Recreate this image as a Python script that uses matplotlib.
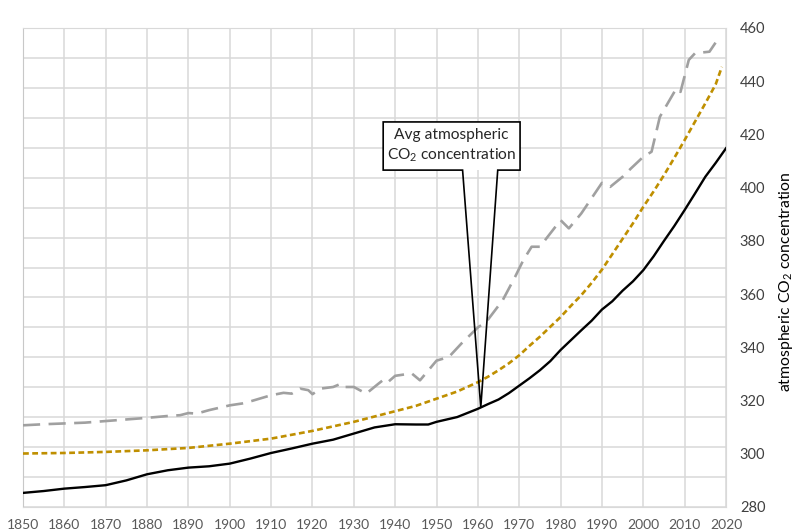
import numpy as np
import matplotlib
matplotlib.use("Agg")
import matplotlib.pyplot as plt
from matplotlib.patches import Rectangle, Polygon

plt.rcParams['font.family'] = ['Lato', 'DejaVu Sans']
plt.rcParams['mathtext.default'] = 'regular'

# measured CO2 (solid black)
obs_years = [1850, 1855, 1860, 1865, 1870, 1875, 1880, 1885, 1890, 1895,
             1900, 1905, 1910, 1915, 1920, 1925, 1930, 1935, 1940, 1945,
             1948, 1950, 1955, 1960, 1962.5, 1965, 1967.5, 1970, 1972.5, 1975,
             1977.5, 1980, 1982.5, 1985, 1987.5, 1990, 1992.5, 1995, 1997.5, 2000,
             2002.5, 2005, 2007.5, 2010, 2012.5, 2015, 2017.5, 2020]
obs_co2 = [285.3, 286.0, 286.9, 287.5, 288.2, 290.0, 292.3, 293.8, 294.8, 295.3,
           296.3, 298.2, 300.3, 302.0, 303.8, 305.3, 307.6, 309.9, 311.1, 311.0,
           311.0, 312.0, 313.8, 316.9, 318.7, 320.4, 322.8, 325.6, 328.4, 331.4,
           334.8, 339.0, 342.7, 346.4, 350.0, 354.2, 357.3, 361.3, 364.8, 369.0,
           374.2, 380.0, 385.6, 391.6, 397.8, 404.1, 409.3, 414.8]

# smooth series (gold dotted)
fit_years = [1850, 1860, 1870, 1880, 1890, 1900, 1910, 1920, 1930, 1940,
             1945, 1950, 1955, 1960, 1962.5, 1965, 1967.5, 1970, 1972.5, 1975,
             1977.5, 1980, 1982.5, 1985, 1987.5, 1990, 1992.5, 1995, 1997.5, 2000,
             2002.5, 2005, 2007.5, 2010, 2012.5, 2015, 2017.5, 2019]
fit_co2 = [300.1, 300.3, 300.7, 301.3, 302.2, 303.8, 305.7, 308.6, 312.0, 316.0,
           318.0, 320.7, 323.4, 326.9, 329.0, 331.4, 334.0, 337.0, 340.6, 344.0,
           347.7, 351.4, 355.6, 359.6, 364.2, 369.2, 375.0, 380.8, 386.6, 392.8,
           398.6, 404.7, 411.2, 417.9, 424.8, 431.7, 438.8, 445.4]

# upper series (grey dashed)
alt_years = [1850, 1855, 1860, 1865, 1870, 1875, 1880, 1885, 1888, 1890,
             1892, 1895, 1900, 1903, 1905, 1910, 1913, 1915, 1917, 1919,
             1920, 1922, 1925, 1927, 1928, 1930, 1933, 1936, 1937, 1938,
             1940, 1944, 1946, 1950, 1953, 1956, 1960, 1962, 1966, 1969,
             1971, 1973, 1975, 1980, 1982, 1985, 1990, 1992, 1995, 1997,
             2000, 2002, 2004, 2008, 2009, 2011, 2012.5, 2016, 2018, 2019]
alt_co2 = [310.7, 311.1, 311.4, 311.7, 312.3, 312.9, 313.5, 314.2, 314.5, 315.3,
           315.1, 316.4, 318.2, 318.9, 319.7, 322.0, 322.9, 322.6, 324.5, 323.9,
           322.4, 324.5, 325.1, 326.4, 325.1, 325.1, 322.6, 326.4, 327.6, 326.6,
           329.3, 330.2, 327.6, 335.0, 336.4, 341.4, 347.5, 349.5, 357.7, 366.5,
           372.8, 377.8, 377.8, 387.8, 384.7, 390.3, 401.8, 400.3, 404.1, 407.2,
           411.6, 413.5, 426.6, 437.3, 436.0, 448.0, 450.5, 451.1, 455.7, 456.1]

x_ticks = list(range(1850, 2021, 10))
right_ticks = list(range(280, 461, 20))
callout_text = 'Avg atmospheric\nCO$_2$ concentration'
ylabel_text = 'atmospheric CO$_2$ concentration'

fig = plt.figure(figsize=(7.95, 5.32), dpi=100)
ax = fig.add_axes([23/795, 25/532, 703/795, 479/532])

# primary axis only supplies the grid
ax.set_xlim(1850, 2020)
ax.set_ylim(0, 16)
ax.set_xticks(x_ticks)
ax.set_yticks(range(17))
ax.set_yticklabels([])
ax.grid(True, color='#d9d9d9', lw=1.1)
ax.tick_params(axis='both', length=0)
ax.tick_params(axis='x', pad=8.5, labelsize=10, labelcolor='#595959')
for side in ['top', 'right', 'bottom']:
    ax.spines[side].set_color('#d9d9d9')
ax.spines['left'].set_color('#c8c8c8')

ax2 = ax.twinx()
ax2.set_ylim(280, 460)
ax2.set_yticks(right_ticks)
ax2.tick_params(axis='y', length=0, pad=10, labelsize=10.5, labelcolor='#404040')
for s in ax2.spines.values():
    s.set_visible(False)

ax2.plot(alt_years, alt_co2, color='#a0a0a0', lw=1.9, dashes=(6.5, 3.2), zorder=3)
ax2.plot(fit_years, fit_co2, color='#bf8f00', lw=1.9, dashes=(2.2, 1.3), zorder=4)
ax2.plot(obs_years, obs_co2, color='black', lw=1.7, zorder=5)
ax2.set_xlim(1850, 2020)

ax2.set_ylabel(ylabel_text, fontsize=11.3, color='black')
ax2.yaxis.set_label_coords(1.073, 0.47)

# callout box pointing at the black curve
bx0, bx1, by0, by1 = 1937.1, 1970.2, 406.6, 424.7
tip_x = 1960.7
tip_y = np.interp(tip_x, obs_years, obs_co2)
ax2.add_patch(Rectangle((bx0, by0), bx1 - bx0, by1 - by0, facecolor='white',
                        edgecolor='none', zorder=6))
outline = [(bx0, by0), (bx0, by1), (bx1, by1), (bx1, by0), (1964.8, by0),
           (tip_x, tip_y), (1956.3, by0), (bx0, by0)]
ax2.add_patch(Polygon(outline, closed=True, fill=False, edgecolor='black',
                      lw=1.2, zorder=7, joinstyle='miter'))
ax2.text((bx0 + bx1) / 2, (by0 + by1) / 2, callout_text, ha='center', va='center',
         fontsize=11.2, color='#262626', linespacing=1.35, zorder=8)

fig.savefig('out.png', dpi=100)
